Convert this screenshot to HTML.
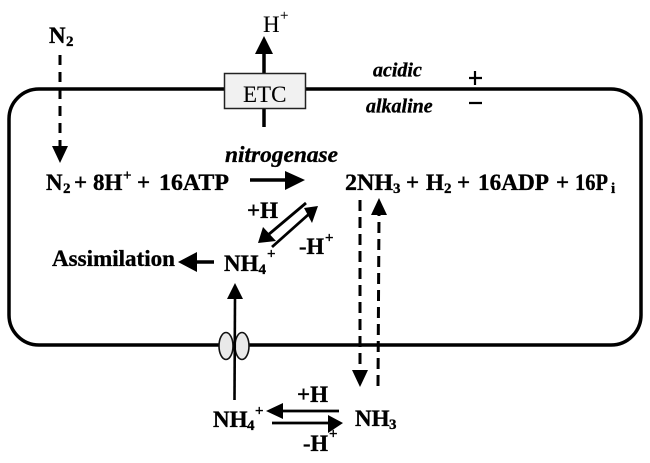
<!DOCTYPE html>
<html><head><meta charset="utf-8"><style>
html,body{margin:0;padding:0;background:#fff}
svg{display:block}
text{font-family:"Liberation Serif",serif;fill:#000;font-weight:bold;font-size:23px;stroke:#000;stroke-width:.35px}
text.s{font-size:15px}
text.n{font-weight:normal;stroke-width:.1px}
text.i{font-style:italic}
text.a{font-size:20px;font-style:italic}
</style></head><body>
<svg width="650" height="463" viewBox="0 0 650 463" xmlns="http://www.w3.org/2000/svg">
<path d="M39 89H611A30 30 0 0 1 641 119V315A30 30 0 0 1 611 345H39A30 30 0 0 1 9 315V119A30 30 0 0 1 39 89Z" fill="none" stroke="#000" stroke-width="3.5"/>
<line x1="264" y1="127" x2="264" y2="50" stroke="#000" stroke-width="3.5"/>
<polygon points="264,36 255,54 273,54" fill="#000"/>
<rect x="224.500" y="73.500" width="81" height="35" fill="#f1f1f1" stroke="#222" stroke-width="1.5"/>
<text class="n" x="243" y="102">ETC</text>
<text class="n" x="263" y="32">H</text>
<text class="s n" x="280" y="20">+</text>
<text x="49" y="43">N</text><text class="s" x="66" y="46">2</text>
<line x1="60" y1="55" x2="60" y2="146" stroke="#000" stroke-width="3" stroke-dasharray="10 7"/>
<polygon points="52,146 68,146 60,163" fill="#000"/>
<text class="a" x="373" y="76.500">acidic</text>
<text class="a" x="366" y="112.500">alkaline</text>
<path d="M475 71V85M469 78H482M469 103H482" stroke="#000" stroke-width="2.2" fill="none"/>
<text class="i" x="225" y="162" textLength="113" lengthAdjust="spacingAndGlyphs">nitrogenase</text>
<text x="46" y="190">N</text><text class="s" x="63" y="193">2</text>
<text x="74" y="190">+</text>
<text x="93" y="190">8H</text><text class="s" x="123" y="180">+</text>
<text x="137" y="190">+</text>
<text x="159" y="190" textLength="70" lengthAdjust="spacingAndGlyphs">16ATP</text>
<line x1="250" y1="180" x2="288" y2="180" stroke="#000" stroke-width="3.5"/>
<polygon points="305,180 285,171 285,190" fill="#000"/>
<text x="345" y="190" textLength="48" lengthAdjust="spacingAndGlyphs">2NH</text><text class="s" x="393" y="193">3</text>
<text x="406" y="190">+</text>
<text x="426" y="190">H</text><text class="s" x="444" y="193">2</text>
<text x="457" y="190">+</text>
<text x="478" y="190" textLength="71" lengthAdjust="spacingAndGlyphs">16ADP</text>
<text x="556" y="190">+</text>
<text x="575" y="190" textLength="33" lengthAdjust="spacingAndGlyphs">16P</text><text class="s" x="611" y="193">i</text>
<line x1="306" y1="203" x2="268" y2="235" stroke="#000" stroke-width="2.8"/>
<polygon points="258,243 263,227 276,241" fill="#000"/>
<line x1="272" y1="247" x2="309" y2="214" stroke="#000" stroke-width="2.8"/>
<polygon points="318,206 304,208 312,223" fill="#000"/>
<text x="247" y="218">+H</text>
<text x="299" y="254" textLength="25" lengthAdjust="spacingAndGlyphs">-H</text><text class="s" x="325" y="242.500">+</text>
<text x="224" y="271">NH</text><text class="s" x="258.500" y="274">4</text><text class="s" x="267" y="258.500">+</text>
<text x="52" y="266" textLength="123" lengthAdjust="spacingAndGlyphs">Assimilation</text>
<line x1="214" y1="262" x2="195" y2="262" stroke="#000" stroke-width="3.5"/>
<polygon points="178,262 197,252 197,272" fill="#000"/>
<ellipse cx="226" cy="346" rx="7" ry="13.500" fill="#e9e9e9" stroke="#111" stroke-width="1.6"/>
<ellipse cx="242" cy="346" rx="7" ry="13.500" fill="#e9e9e9" stroke="#111" stroke-width="1.6"/>
<line x1="234.500" y1="400" x2="235" y2="296" stroke="#000" stroke-width="2.6"/>
<polygon points="235,283 227,299 243,299" fill="#000"/>
<text x="213" y="427">NH</text><text class="s" x="247" y="430">4</text><text class="s" x="255" y="415.500">+</text>
<line x1="280" y1="411" x2="339" y2="411" stroke="#000" stroke-width="2.8"/>
<polygon points="266,411 283,403 283,419" fill="#000"/>
<line x1="272" y1="423" x2="330" y2="423" stroke="#000" stroke-width="2.8"/>
<polygon points="343,423 328,415 328,433" fill="#000"/>
<text x="297" y="402">+H</text>
<text x="303" y="451" textLength="25" lengthAdjust="spacingAndGlyphs">-H</text><text class="s" x="329" y="438.500">+</text>
<text x="355" y="426">NH</text><text class="s" x="389" y="429">3</text>
<line x1="360" y1="200" x2="360" y2="370" stroke="#000" stroke-width="3" stroke-dasharray="11 6"/>
<polygon points="352,370 368,370 360,387" fill="#000"/>
<line x1="378" y1="386" x2="379" y2="214" stroke="#000" stroke-width="3" stroke-dasharray="11 6"/>
<polygon points="379,198 371,215 387,215" fill="#000"/>
</svg>
</body></html>
